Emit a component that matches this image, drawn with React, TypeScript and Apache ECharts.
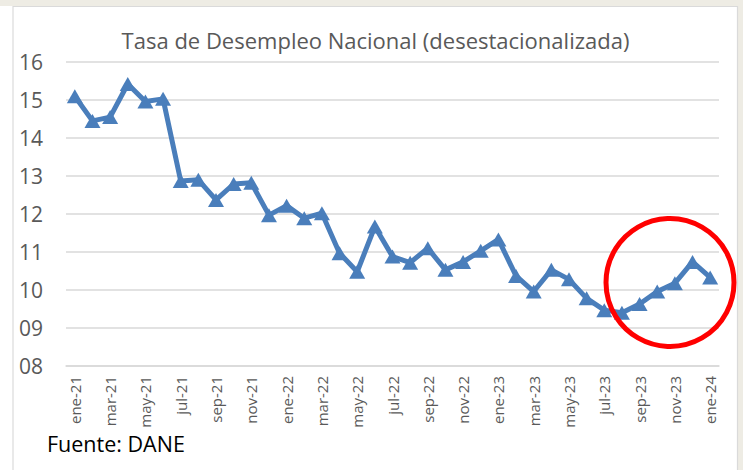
import React, { useEffect, useRef } from "react";
import * as echarts from "echarts";

const categories = [
  "ene-21", "feb-21", "mar-21", "abr-21", "may-21", "jun-21", "jul-21", "ago-21", "sep-21", "oct-21", "nov-21", "dic-21",
  "ene-22", "feb-22", "mar-22", "abr-22", "may-22", "jun-22", "jul-22", "ago-22", "sep-22", "oct-22", "nov-22", "dic-22",
  "ene-23", "feb-23", "mar-23", "abr-23", "may-23", "jun-23", "jul-23", "ago-23", "sep-23", "oct-23", "nov-23", "dic-23",
  "ene-24",
];

const desempleo = [
  15.1, 14.45, 14.55, 15.42, 14.96, 15.03, 12.87, 12.9, 12.37, 12.79, 12.82, 11.97,
  12.22, 11.89, 12.02, 10.97, 10.48, 11.67, 10.88, 10.72, 11.1, 10.53, 10.74, 11.03,
  11.33, 10.37, 9.96, 10.53, 10.28, 9.78, 9.47, 9.4, 9.63, 9.96, 10.18, 10.74,
  10.33,
];

const titleText = "Tasa de Desempleo Nacional (desestacionalizada)";
const sourceText = "Fuente: DANE";

export default function App() {
  const ref = useRef<HTMLDivElement>(null);
  useEffect(() => {
    document.body.style.margin = "0";
    if (!ref.current) return;
    const chart = echarts.init(ref.current, undefined, { renderer: "svg" });
    const font = "'Open Sans', 'Noto Sans', sans-serif";
    chart.setOption({
      animation: false,
      backgroundColor: "#ffffff",
      grid: { left: 66, right: 24, top: 62, bottom: 104, containLabel: false },
      xAxis: {
        type: "category",
        data: categories,
        boundaryGap: true,
        axisLine: { lineStyle: { color: "#D9D9D9", width: 1.5 } },
        axisTick: { interval: 1, length: 5, lineStyle: { color: "#D9D9D9", width: 1.5 } },
        axisLabel: {
          interval: 1,
          rotate: 90,
          margin: 10,
          color: "#595959",
          fontSize: 15,
          fontFamily: font,
        },
        splitLine: { show: false },
      },
      yAxis: {
        type: "value",
        min: 8,
        max: 16,
        interval: 1,
        axisLine: { show: false },
        axisTick: { show: false },
        axisLabel: {
          color: "#595959",
          fontSize: 21,
          fontFamily: font,
          margin: 23,
          formatter: (v: number) => (v < 10 ? "0" + v : String(v)),
        },
        splitLine: { lineStyle: { color: "#D9D9D9", width: 1.5 } },
      },
      series: [
        {
          type: "line",
          data: desempleo,
          symbol: "triangle",
          symbolSize: [16, 14],
          showAllSymbol: true,
          itemStyle: { color: "#4A7EBB" },
          lineStyle: { color: "#4A7EBB", width: 5 },
        },
      ],
      graphic: [
        { type: "rect", z: -10, shape: { x: 0, y: 0, width: 743, height: 6 }, style: { fill: "#EEECE4" } },
        { type: "rect", z: -10, shape: { x: 738, y: 0, width: 5, height: 470 }, style: { fill: "#EEECE4" } },
        { type: "line", shape: { x1: 13, y1: 6, x2: 13, y2: 470 }, style: { stroke: "#DADADA", lineWidth: 1.2 } },
        { type: "line", shape: { x1: 13, y1: 6.5, x2: 738, y2: 6.5 }, style: { stroke: "#DADADA", lineWidth: 1.2 } },
        { type: "line", shape: { x1: 737.5, y1: 6, x2: 737.5, y2: 470 }, style: { stroke: "#DADADA", lineWidth: 1.2 } },
        {
          type: "text",
          x: 375.5,
          y: 40,
          style: { text: titleText, fill: "#595959", font: `22px ${font}`, align: "center", verticalAlign: "middle" },
        },
        {
          type: "text",
          x: 47,
          y: 443,
          style: { text: sourceText, fill: "#000000", font: `21.5px ${font}`, align: "left", verticalAlign: "middle" },
        },
        {
          type: "circle",
          z: 100,
          shape: { cx: 670, cy: 282.5, r: 64 },
          style: { fill: "none", stroke: "#FF0000", lineWidth: 5 },
        },
      ],
    });
    return () => chart.dispose();
  }, []);
  return <div ref={ref} style={{ width: 743, height: 470 }} />;
}
